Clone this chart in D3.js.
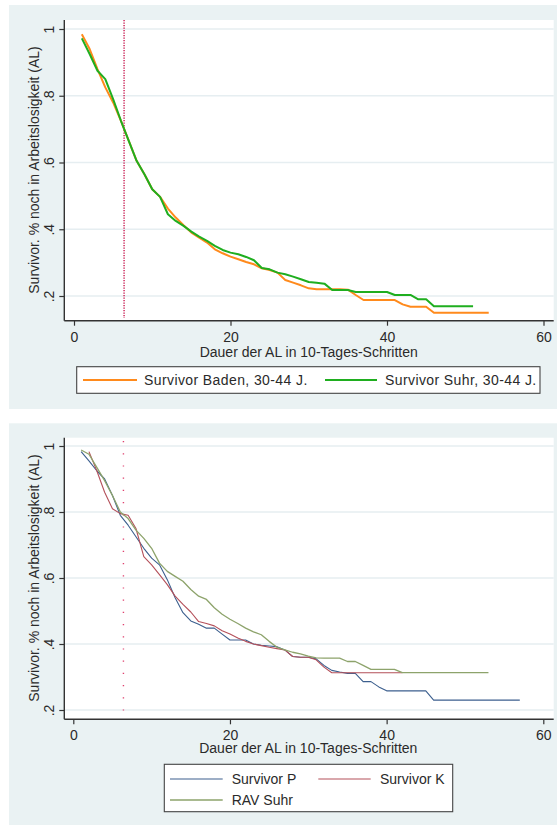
<!DOCTYPE html>
<html>
<head>
<meta charset="utf-8">
<script src="https://cdn.jsdelivr.net/npm/d3@7"></script>
<style>
html,body{margin:0;padding:0;background:#fff;}
svg{display:block;font-family:"Liberation Sans",Arial,sans-serif;}
</style>
</head>
<body>
<svg id="chart" width="557" height="825"></svg>
<script>
// ---------- data ----------
const xTicks = [0, 20, 40, 60];
const yTicks = [0.2, 0.4, 0.6, 0.8, 1];
const yTickLabels = [".2", ".4", ".6", ".8", "1"];
const markerX = 6.4;

// top panel (start at step 1)
const badenStart = 1;
const baden = [0.984,0.94,0.88,0.825,0.78,0.725,0.665,0.605,0.565,0.52,0.497,0.462,0.435,0.412,0.39,0.375,0.36,0.34,0.328,0.318,0.31,0.302,0.295,0.283,0.278,0.27,0.248,0.24,0.232,0.223,0.22,0.22,0.22,0.22,0.219,0.203,0.188,0.188,0.188,0.188,0.188,0.175,0.168,0.168,0.168,0.15,0.15,0.15,0.15,0.15,0.15,0.15,0.15];
const suhrStart = 1;
const suhr = [0.972,0.925,0.875,0.85,0.79,0.725,0.665,0.605,0.565,0.52,0.497,0.445,0.425,0.41,0.393,0.378,0.365,0.35,0.338,0.33,0.325,0.317,0.307,0.284,0.28,0.27,0.265,0.258,0.25,0.242,0.24,0.237,0.218,0.218,0.218,0.212,0.212,0.212,0.212,0.212,0.203,0.203,0.203,0.19,0.19,0.169,0.169,0.169,0.169,0.169,0.169];

// bottom panel
const pStart = 1;
const survP = [0.983,0.955,0.925,0.9,0.85,0.79,0.76,0.725,0.69,0.66,0.64,0.595,0.54,0.495,0.47,0.46,0.448,0.448,0.43,0.412,0.412,0.412,0.4,0.396,0.394,0.392,0.382,0.362,0.36,0.36,0.355,0.335,0.32,0.315,0.311,0.311,0.286,0.286,0.27,0.258,0.258,0.258,0.258,0.258,0.258,0.23,0.23,0.23,0.23,0.23,0.23,0.23,0.23,0.23,0.23,0.23,0.23];
const kStart = 2;
const survK = [0.983,0.925,0.86,0.81,0.795,0.79,0.75,0.665,0.64,0.61,0.58,0.545,0.52,0.497,0.468,0.462,0.455,0.44,0.43,0.418,0.408,0.4,0.395,0.39,0.386,0.382,0.362,0.36,0.36,0.352,0.33,0.313,0.313,0.313,0.313,0.313,0.313,0.313,0.313,0.313,0.313];
const ravStart = 1;
const ravSuhr = [0.988,0.975,0.935,0.895,0.85,0.8,0.78,0.745,0.72,0.69,0.645,0.62,0.605,0.59,0.565,0.545,0.535,0.51,0.49,0.475,0.462,0.448,0.437,0.428,0.408,0.39,0.382,0.375,0.37,0.363,0.358,0.357,0.357,0.357,0.347,0.347,0.335,0.323,0.323,0.323,0.323,0.313,0.313,0.313,0.313,0.313,0.313,0.313,0.313,0.313,0.313,0.313,0.313];

const xTitle = "Dauer der AL in 10-Tages-Schritten";
const yTitle = "Survivor. % noch in Arbeitslosigkeit (AL)";

// ---------- drawing ----------
const svg = d3.select("#chart");
const BG = "#eaf2f3";
const FONT = 14;
const TXT = "#2a2a2a";

function toPoints(start, vals){ return vals.map((v,i)=>({t:start+i, v:v})); }

function panel(cfg){
  const g = svg.append("g");
  g.append("rect").attr("x",cfg.bg[0]).attr("y",cfg.bg[1]).attr("width",cfg.bg[2]).attr("height",cfg.bg[3]).attr("fill",BG);
  const pl = cfg.plot; // left, top, right, bottom
  g.append("rect").attr("x",pl[0]).attr("y",pl[1]).attr("width",pl[2]-pl[0]).attr("height",pl[3]-pl[1]).attr("fill","#fff");
  const x = d3.scaleLinear().domain([0,60]).range(cfg.xr);
  const y = d3.scaleLinear().domain([0.2,1]).range(cfg.yr);

  // grid
  g.selectAll(".grid").data(yTicks).enter().append("line")
    .attr("x1",pl[0]).attr("x2",pl[2]).attr("y1",d=>y(d)).attr("y2",d=>y(d))
    .attr("stroke","#e6eef1").attr("stroke-width",1.6);

  // marker line
  g.append("line").attr("x1",x(markerX)).attr("x2",x(markerX))
    .attr("y1",cfg.mark[0]).attr("y2",cfg.mark[1])
    .attr("stroke",cfg.markColor).attr("stroke-width",1.4)
    .attr("stroke-dasharray",cfg.markDash);

  // series
  const line = d3.line().x(d=>x(d.t)).y(d=>y(d.v));
  cfg.series.forEach(s=>{
    g.append("path").datum(toPoints(s.start,s.vals)).attr("d",line)
      .attr("fill","none").attr("stroke",s.color).attr("stroke-width",s.w)
      .attr("stroke-linejoin","round");
  });

  // axes
  const xa = d3.axisBottom(x).tickValues(xTicks).tickSize(5).tickFormat(d3.format("d"));
  const xg = g.append("g").attr("transform",`translate(0,${pl[3]})`).call(xa);
  xg.select(".domain").remove();
  xg.selectAll(".tick line").attr("stroke","#333").attr("stroke-width",1.2);
  xg.selectAll(".tick text").attr("font-size",FONT).attr("fill",TXT).attr("dy",null).attr("y",cfg.xLabY-pl[3]);
  g.append("line").attr("x1",pl[0]).attr("x2",pl[2]).attr("y1",pl[3]).attr("y2",pl[3]).attr("stroke","#333").attr("stroke-width",1.4);

  const ya = d3.axisLeft(y).tickValues(yTicks).tickSize(5).tickFormat((d,i)=>yTickLabels[i]);
  const yg = g.append("g").attr("transform",`translate(${pl[0]},0)`).call(ya);
  yg.select(".domain").remove();
  yg.selectAll(".tick line").attr("stroke","#333").attr("stroke-width",1.2);
  yg.selectAll(".tick text").attr("font-size",FONT).attr("fill",TXT)
    .attr("x",null).attr("dy",null).attr("text-anchor","middle")
    .attr("transform",`translate(${54-pl[0]},0) rotate(-90)`);
  g.append("line").attr("x1",pl[0]).attr("x2",pl[0]).attr("y1",pl[1]).attr("y2",pl[3]).attr("stroke","#333").attr("stroke-width",1.4);

  // titles
  g.append("text").attr("x",(x(0)+x(60))/2).attr("y",cfg.xTitleY).attr("text-anchor","middle")
    .attr("font-size",FONT).attr("fill",TXT).text(xTitle);
  g.append("text").attr("transform",`translate(38.5,${cfg.yTitleC}) rotate(-90)`).attr("text-anchor","middle")
    .attr("font-size",FONT).attr("fill",TXT).text(yTitle);

  // legend
  const L = cfg.legend;
  g.append("rect").attr("x",L.box[0]).attr("y",L.box[1]).attr("width",L.box[2]).attr("height",L.box[3])
    .attr("fill","#fff").attr("stroke","#444").attr("stroke-width",1.1);
  L.items.forEach(it=>{
    const s = cfg.series[it.s];
    g.append("line").attr("x1",it.x).attr("x2",it.x+it.len).attr("y1",it.y).attr("y2",it.y)
      .attr("stroke",s.color).attr("stroke-width",s.w);
    g.append("text").attr("x",it.tx).attr("y",it.y+5).attr("font-size",FONT).attr("fill",TXT)
      .attr("letter-spacing",it.ls||0).text(s.name);
  });
}

panel({
  bg:[9,5,548,404],
  plot:[64.3,20,553.7,320.7],
  xr:[74,543.5],
  yr:[296,29],
  mark:[20,318],
  markColor:"#c8174e",
  markDash:"1.3,1.2",
  xLabY:342,
  xTitleY:356.5,
  yTitleC:170,
  series:[
    {name:"Survivor Baden, 30-44 J.", start:badenStart, vals:baden, color:"#ff8a1c", w:2},
    {name:"Survivor Suhr, 30-44 J.", start:suhrStart, vals:suhr, color:"#1fae1f", w:2}
  ],
  legend:{box:[76.7,366.7,463.3,26.6], items:[
    {s:0,x:83,len:54,y:380,tx:144,ls:0.4},
    {s:1,x:325,len:52,y:380,tx:385,ls:0.4}
  ]}
});

panel({
  bg:[9,423.3,548,401.7],
  plot:[64.3,437.7,553.7,719.3],
  xr:[73.3,543.3],
  yr:[710,446],
  mark:[441,715],
  markColor:"#e0406e",
  markDash:"1.2,11",
  xLabY:740.5,
  xTitleY:753,
  yTitleC:578,
  series:[
    {name:"Survivor P", start:pStart, vals:survP, color:"#3c5f8e", w:1.1},
    {name:"Survivor K", start:kStart, vals:survK, color:"#b4505a", w:1.1},
    {name:"RAV Suhr", start:ravStart, vals:ravSuhr, color:"#8da36b", w:1.3}
  ],
  legend:{box:[164.3,764.3,288.4,47.4], items:[
    {s:0,x:170,len:52.7,y:779,tx:231.7},
    {s:1,x:318.3,len:52.4,y:779,tx:380},
    {s:2,x:170,len:52.7,y:800,tx:231.7}
  ]}
});
</script>
</body>
</html>
